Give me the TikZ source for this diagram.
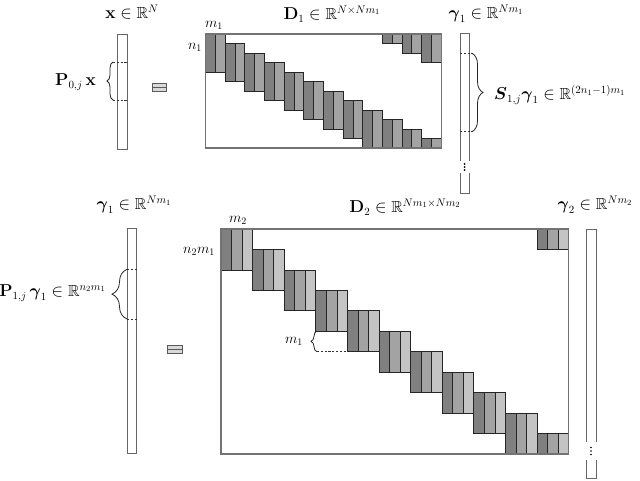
\documentclass[tikz,border=0pt]{standalone}
\usepackage{amsmath,amssymb}
\usetikzlibrary{decorations.pathreplacing}
\definecolor{cdark}{gray}{0.50}
\definecolor{cmid}{gray}{0.64}
\definecolor{clight}{gray}{0.77}
\newcommand{\inR}{\in\mathbb{R}}
\begin{document}
\begin{tikzpicture}[x=1pt,y=-1pt,
  mat/.style={draw=black!55, line width=1.1pt},
  blk/.style={draw=black!85, line width=0.7pt},
  vec/.style={draw=black!60, line width=0.9pt},
  big/.style={font=\fontsize{16}{18}\selectfont, inner sep=0pt},
  small/.style={font=\fontsize{14}{16}\selectfont, inner sep=0pt},
  dsh/.style={dash pattern=on 2.2pt off 1.6pt, line width=0.7pt, draw=black!80},
  brc/.style={decorate, decoration={brace, amplitude=#1}, line width=0.8pt, draw=black!85},
  eqbox/.style={draw=black!65, fill=black!15, line width=0.7pt}]
\useasboundingbox (0,0) rectangle (640,480);

% ---------------- top row ----------------
% x vector
\draw[vec, fill=white] (117,34) rectangle (127,149);
\draw[dsh] (113,62) -- (127,62);
\draw[dsh] (113,100) -- (127,100);
\draw[brc=6] (113,100) -- (113,62);

% equal sign
\draw[eqbox] (152,83) rectangle (166,87.3);
\draw[eqbox] (152,87.3) rectangle (166,91.7);

% D1 matrix
\begin{scope}
\clip (205.5,34) rectangle (441.3,148);
\foreach \k in {0,...,11}{
  \foreach \s in {0,-12}{
    \pgfmathsetmacro\bx{205.5+\k*19.65}
    \pgfmathsetmacro\by{34+(\k+\s)*9.5}
    \fill[cdark] (\bx,\by) rectangle ++(9.825,38);
    \fill[cmid] (\bx+9.825,\by) rectangle ++(9.825,38);
    \draw[blk] (\bx,\by) rectangle ++(19.65,38) (\bx+9.825,\by) -- ++(0,38);
  }
}
\end{scope}
\draw[mat] (205.5,34) rectangle (441.3,148);

% gamma1 vector (top)
\draw[vec] (460,161) -- (460,33.5) -- (469.3,33.5) -- (469.3,161);
\draw[vec] (460,173) -- (460,193) -- (469.3,193) -- (469.3,173);
\foreach \yy in {164,167,170} \fill (464.6,\yy) circle (0.9);
\draw[dsh] (460,53.3) -- (473,53.3);
\draw[dsh] (460,131.7) -- (473,131.7);
\draw[brc=11] (472,53.3) -- (472,131.7);

% labels top
\node[big] (lx) at (132,12) {$\mathbf{x}\inR^{N}$};
\node[big] (lD1) at (332,14) {$\mathbf{D}_1\inR^{N\times Nm_1}$};
\node[big] (lg1) at (486,14) {$\boldsymbol{\gamma}_1\inR^{Nm_1}$};
\node[small] (lm1) at (214,25) {$m_1$};
\node[small] (ln1) at (195,47) {$n_1$};
\node[big, anchor=east] (lP0) at (96,82) {$\mathbf{P}_{0,j}\,\mathbf{x}$};
\node[big, anchor=west] (lS) at (494,95) {$\boldsymbol{S}_{1,j}\boldsymbol{\gamma}_1\inR^{(2n_1-1)m_1}$};

% ---------------- bottom row ----------------
% gamma1 vector
\draw[vec, fill=white] (127.5,228.5) rectangle (136.8,453.5);
\draw[dsh] (127,269.3) -- (136.8,269.3);
\draw[dsh] (127,319) -- (136.8,319);
\draw[brc=15] (127,319) -- (127,269.3);

% equal sign
\draw[eqbox] (167,345) rectangle (182.7,349.2);
\draw[eqbox] (167,349.2) rectangle (182.7,353.4);

% D2 matrix
\begin{scope}
\clip (221,229) rectangle (568.6,454);
\foreach \k in {0,...,10}{
  \foreach \s in {0,-11}{
    \pgfmathsetmacro\bx{221+\k*31.6}
    \pgfmathsetmacro\by{229+(\k+\s)*20.45}
    \fill[cdark] (\bx,\by) rectangle ++(10.533,40.9);
    \fill[cmid] (\bx+10.533,\by) rectangle ++(10.533,40.9);
    \fill[clight] (\bx+21.067,\by) rectangle ++(10.533,40.9);
    \draw[blk] (\bx,\by) rectangle ++(31.6,40.9)
      (\bx+10.533,\by) -- ++(0,40.9) (\bx+21.067,\by) -- ++(0,40.9);
  }
}
\end{scope}
\draw[mat] (221,229) rectangle (568.6,454);

% m1 brace inside D2
\draw[dsh] (317,351.7) -- (347.4,351.7);
\draw[brc=6] (317,351.7) -- (317,331);

% gamma2 vector
\draw[vec] (586,441.7) -- (586,229) -- (596,229) -- (596,441.7);
\draw[vec] (586,459.5) -- (586,478) -- (596,478) -- (596,459.5);
\foreach \yy in {447.5,451,454.5} \fill (591,\yy) circle (0.9);

% labels bottom
\node[big] (lg1b) at (134,205) {$\boldsymbol{\gamma}_1\inR^{Nm_1}$};
\node[big] (lD2) at (405,207) {$\mathbf{D}_2\inR^{Nm_1\times Nm_2}$};
\node[big] (lg2) at (595,205) {$\boldsymbol{\gamma}_2\inR^{Nm_2}$};
\node[small] (lm2) at (238,220) {$m_2$};
\node[small] (ln2m1) at (199,251) {$n_2m_1$};
\node[big, anchor=east] (lP1) at (106,293) {$\mathbf{P}_{1,j}\,\boldsymbol{\gamma}_1\inR^{n_2m_1}$};
\node[small] (lm1b) at (294,341) {$m_1$};
\end{tikzpicture}
\end{document}
